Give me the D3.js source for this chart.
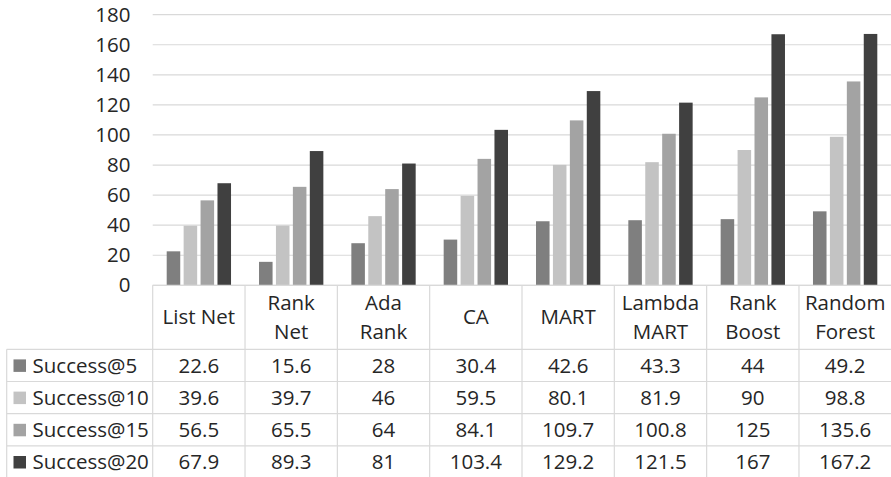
<!DOCTYPE html>
<html>
<head>
<meta charset="utf-8">
<script src="https://cdn.jsdelivr.net/npm/d3@7"></script>
<style>
  body { margin: 0; background: #fff; }
  svg { display: block; font-family: 'Open Sans', sans-serif; }
</style>
</head>
<body>
<div id="chart"></div>
<script>
const categories = [
  ['List Net'], ['Rank', 'Net'], ['Ada', 'Rank'], ['CA'], ['MART'],
  ['Lambda', 'MART'], ['Rank', 'Boost'], ['Random', 'Forest'],
]
const series = ['Success@5', 'Success@10', 'Success@15', 'Success@20']
const success5 = [22.6, 15.6, 28, 30.4, 42.6, 43.3, 44, 49.2]
const success10 = [39.6, 39.7, 46, 59.5, 80.1, 81.9, 90, 98.8]
const success15 = [56.5, 65.5, 64, 84.1, 109.7, 100.8, 125, 135.6]
const success20 = [67.9, 89.3, 81, 103.4, 129.2, 121.5, 167, 167.2]
const yTicks = [0, 20, 40, 60, 80, 100, 120, 140, 160, 180]

const values = [success5, success10, success15, success20]
const colors = ['#7f7f7f', '#c3c3c3', '#a3a3a3', '#404040']
const textColor = '#262626'
const lineColor = '#d9d9d9'
const fontSize = '20.5px'

const width = 891
const height = 477
const plotLeft = 152.7
const plotRight = 891.3
const tableLeft = 6.7
const headerH = 64
const rowH = 32.2

const svg = d3.select('#chart').append('svg')
  .attr('width', width)
  .attr('height', height)

const y = d3.scaleLinear().domain([0, 180]).range([285.3, 14.7])
const labels = categories.map(c => c.join(' '))
const x0 = d3.scaleBand().domain(labels).range([plotLeft, plotRight])
const x1 = d3.scaleBand().domain(series)
  .range([14, x0.bandwidth() - 14])
  .paddingInner(0.2)

// gridlines
svg.append('g')
  .selectAll('line')
  .data(yTicks)
  .join('line')
  .attr('x1', plotLeft)
  .attr('x2', plotRight)
  .attr('y1', d => y(d))
  .attr('y2', d => y(d))
  .attr('stroke', lineColor)
  .attr('stroke-width', 1.2)

// y labels
svg.append('g')
  .selectAll('text')
  .data(yTicks)
  .join('text')
  .attr('x', 130.5)
  .attr('y', d => y(d))
  .attr('dy', '0.35em')
  .attr('text-anchor', 'end')
  .attr('font-size', fontSize)
  .attr('fill', textColor)
  .text(d => d)

// bars
const groups = svg.append('g')
  .selectAll('g')
  .data(labels)
  .join('g')
  .attr('transform', d => `translate(${x0(d)},0)`)

groups.selectAll('rect')
  .data((d, i) => series.map((s, j) => ({ s, j, v: values[j][i] })))
  .join('rect')
  .attr('x', d => x1(d.s))
  .attr('width', x1.bandwidth())
  .attr('y', d => y(d.v))
  .attr('height', d => y(0) - y(d.v))
  .attr('fill', d => colors[d.j])

// data table
const baseY = y(0)
const table = svg.append('g')
const rowTop = i => baseY + headerH + i * rowH

// horizontal lines
table.append('line')
  .attr('x1', plotLeft).attr('x2', plotRight)
  .attr('y1', baseY).attr('y2', baseY)
  .attr('stroke', lineColor).attr('stroke-width', 1.2)
table.selectAll('.hline')
  .data(d3.range(series.length + 1))
  .join('line')
  .attr('class', 'hline')
  .attr('x1', tableLeft).attr('x2', plotRight)
  .attr('y1', i => rowTop(i)).attr('y2', i => rowTop(i))
  .attr('stroke', lineColor).attr('stroke-width', 1.2)

// vertical lines
table.selectAll('.vline')
  .data(labels)
  .join('line')
  .attr('class', 'vline')
  .attr('x1', d => x0(d)).attr('x2', d => x0(d))
  .attr('y1', baseY).attr('y2', height + 2)
  .attr('stroke', lineColor).attr('stroke-width', 1.2)
table.append('line')
  .attr('x1', tableLeft).attr('x2', tableLeft)
  .attr('y1', rowTop(0)).attr('y2', height + 2)
  .attr('stroke', lineColor).attr('stroke-width', 1.2)

// header labels
const headers = table.selectAll('.head')
  .data(categories)
  .join('text')
  .attr('class', 'head')
  .attr('text-anchor', 'middle')
  .attr('font-size', fontSize)
  .attr('fill', textColor)
  .attr('x', (d, i) => x0(labels[i]) + x0.bandwidth() / 2)
  .attr('y', baseY + headerH / 2)

headers.selectAll('tspan')
  .data(d => d.map((t, k) => ({ t, k, n: d.length })))
  .join('tspan')
  .attr('x', function() { return this.parentNode.getAttribute('x') })
  .attr('dy', d => d.k === 0 ? (0.35 - (d.n - 1) * 0.69) + 'em' : '1.38em')
  .text(d => d.t)

// legend column
const legendRows = table.selectAll('.legend')
  .data(series)
  .join('g')
  .attr('class', 'legend')
  .attr('transform', (d, i) => `translate(0,${rowTop(i) + rowH / 2})`)

legendRows.append('rect')
  .attr('x', 13.5)
  .attr('y', -6)
  .attr('width', 12.5)
  .attr('height', 12.5)
  .attr('fill', (d, i) => colors[i])

legendRows.append('text')
  .attr('x', 32.5)
  .attr('dy', '0.35em')
  .attr('font-size', fontSize)
  .attr('fill', textColor)
  .text(d => d)

// value cells
series.forEach((s, j) => {
  table.append('g')
    .selectAll('text')
    .data(values[j])
    .join('text')
    .attr('x', (d, i) => x0(labels[i]) + x0.bandwidth() / 2)
    .attr('y', rowTop(j) + rowH / 2)
    .attr('dy', '0.35em')
    .attr('text-anchor', 'middle')
    .attr('font-size', fontSize)
    .attr('fill', textColor)
    .text(d => d)
})
</script>
</body>
</html>
